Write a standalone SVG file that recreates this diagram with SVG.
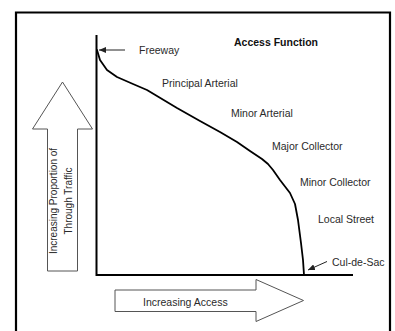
<svg xmlns="http://www.w3.org/2000/svg" width="395" height="331" viewBox="0 0 395 331">
<style>
.lbl{font-family:"Liberation Sans",Arial,sans-serif;font-size:10.5px;fill:#2a2a2a}
.ttl{font-family:"Liberation Sans",Arial,sans-serif;font-size:10.5px;font-weight:bold;fill:#111}
.big{fill:#fff;stroke:#555;stroke-width:1}
.axis{fill:none;stroke:#000;stroke-width:2}
.ptr{stroke:#222;stroke-width:1;fill:none;marker-end:url(#ah)}
</style>
<defs>
<marker id="ah" markerWidth="8" markerHeight="6" refX="7" refY="3" orient="auto" markerUnits="userSpaceOnUse">
<path d="M0,0 L7,3 L0,6 Z" fill="#222"/>
</marker>
</defs>
<rect width="395" height="331" fill="#fff"/>
<path d="M16,331 V12.5 H390 V331" fill="none" stroke="#000" stroke-width="2.2"/>
<g id="axes">
<path class="axis" d="M96.5,35 V275 H353"/>
</g>
<g id="curve">
<polyline fill="none" stroke="#000" stroke-width="1.8" stroke-linejoin="round" stroke-linecap="round" points="97,50 100,60 107,70 117,77 133,84 147,90 157,96 177,108 200,121 220,132 237,142 250,151 262,159 268,164 273,170 280,180 290,193 295,204 298,220 301,243 303,260 304,275"/>
</g>
<g id="connectors">
<line class="ptr" x1="125" y1="50" x2="99" y2="50"/>
<line class="ptr" x1="327" y1="261.5" x2="308" y2="270"/>
</g>
<g id="title"><text class="ttl" x="234" y="46">Access Function</text></g>
<g id="freeway"><text class="lbl" x="139" y="54">Freeway</text></g>
<g id="principal"><text class="lbl" x="162" y="87">Principal Arterial</text></g>
<g id="minor-arterial"><text class="lbl" x="231" y="117">Minor Arterial</text></g>
<g id="major-collector"><text class="lbl" x="272" y="150">Major Collector</text></g>
<g id="minor-collector"><text class="lbl" x="300" y="186">Minor Collector</text></g>
<g id="local-street"><text class="lbl" x="318" y="223">Local Street</text></g>
<g id="cul-de-sac"><text class="lbl" x="332" y="266">Cul-de-Sac</text></g>
<g id="up-arrow">
<polygon class="big" points="62.5,82 92.5,129 77.5,129 77.5,271 47.5,271 47.5,129 32.5,129"/>
<text class="lbl" style="font-size:10px" text-anchor="middle" transform="translate(56.5,201) rotate(-90)">Increasing Proportion of</text>
<text class="lbl" style="font-size:10px" text-anchor="middle" transform="translate(71.5,201) rotate(-90)">Through Traffic</text>
</g>
<g id="right-arrow">
<polygon class="big" points="303.5,300.5 256,321.5 256,311.5 115,311.5 115,290 256,290 256,279.5"/>
<text class="lbl" x="143" y="306">Increasing Access</text>
</g>
</svg>
